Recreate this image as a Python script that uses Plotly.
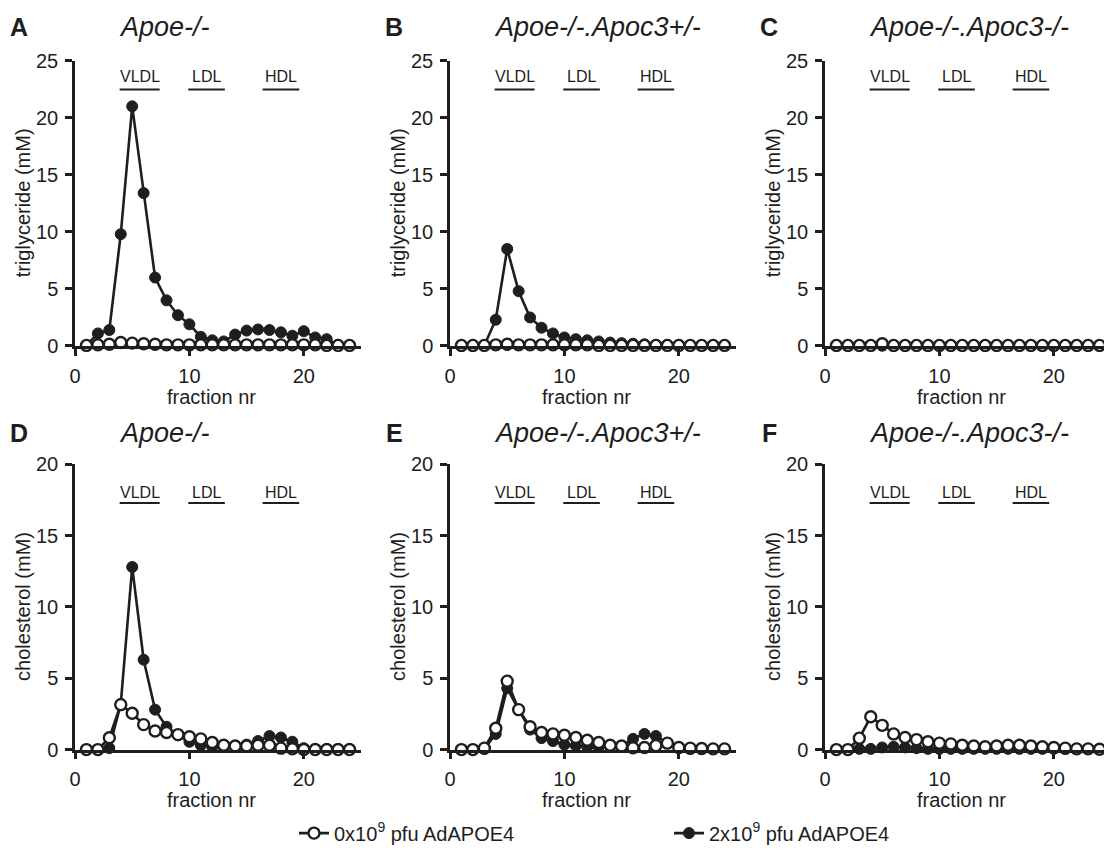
import plotly.graph_objects as go

PAGE_OFF = 8            # default body margin of the written html page
FW, FH = 1104, 845      # figure size so that it fits inside the 1112x853 window

fractions = list(range(1, 25))

# triglyceride (mM)
tg_A_0 = [0.05, 0.1, 0.15, 0.3, 0.25, 0.2, 0.15, 0.1, 0.1, 0.1, 0.1, 0.1, 0.1, 0.1, 0.1, 0.1, 0.1, 0.1, 0.1, 0.1, 0.1, 0.05, 0.05, 0.05]
tg_A_2 = [0.05, 1.1, 1.4, 9.8, 21.0, 13.4, 6.0, 4.0, 2.7, 1.9, 0.8, 0.5, 0.4, 1.0, 1.35, 1.45, 1.4, 1.2, 0.9, 1.3, 0.75, 0.6, 0.1, 0.05]
tg_B_0 = [0.05, 0.05, 0.05, 0.1, 0.15, 0.1, 0.1, 0.1, 0.1, 0.1, 0.1, 0.1, 0.05, 0.05, 0.05, 0.05, 0.05, 0.05, 0.05, 0.05, 0.05, 0.05, 0.05, 0.05]
tg_B_2 = [0.0, 0.0, 0.05, 2.3, 8.5, 4.8, 2.5, 1.6, 1.1, 0.75, 0.6, 0.5, 0.4, 0.3, 0.25, 0.2, 0.15, 0.1, 0.1, 0.1, 0.05, 0.05, 0.05, 0.05]
tg_C_0 = [0.05, 0.05, 0.05, 0.05, 0.2, 0.05, 0.05, 0.05, 0.05, 0.05, 0.05, 0.05, 0.05, 0.05, 0.05, 0.05, 0.05, 0.05, 0.05, 0.05, 0.05, 0.05, 0.05, 0.05]
tg_C_2 = [0.02, 0.02, 0.02, 0.02, 0.02, 0.02, 0.02, 0.02, 0.02, 0.02, 0.02, 0.02, 0.02, 0.02, 0.02, 0.02, 0.02, 0.02, 0.02, 0.02, 0.02, 0.02, 0.02, 0.02]

# cholesterol (mM)
ch_D_0 = [0.0, 0.0, 0.83, 3.15, 2.55, 1.75, 1.3, 1.2, 1.05, 0.9, 0.75, 0.5, 0.3, 0.25, 0.25, 0.3, 0.3, 0.1, 0.05, 0.0, 0.0, 0.0, 0.0, 0.0]
ch_D_2 = [0.0, 0.0, 0.1, 3.2, 12.8, 6.3, 2.8, 1.6, 1.0, 0.55, 0.3, 0.2, 0.2, 0.25, 0.35, 0.6, 0.95, 0.85, 0.55, 0.1, 0.05, 0.05, 0.05, 0.05]
ch_E_0 = [0.0, 0.0, 0.1, 1.5, 4.8, 2.8, 1.6, 1.2, 1.1, 1.0, 0.85, 0.65, 0.5, 0.3, 0.25, 0.12, 0.15, 0.28, 0.45, 0.15, 0.1, 0.08, 0.05, 0.05]
ch_E_2 = [0.0, 0.0, 0.05, 1.1, 4.3, 2.8, 1.4, 0.8, 0.6, 0.35, 0.28, 0.2, 0.2, 0.2, 0.25, 0.75, 1.1, 0.95, 0.45, 0.1, 0.05, 0.05, 0.05, 0.05]
ch_F_0 = [0.0, 0.0, 0.8, 2.3, 1.7, 1.1, 0.85, 0.7, 0.55, 0.45, 0.4, 0.3, 0.25, 0.2, 0.25, 0.3, 0.3, 0.25, 0.2, 0.15, 0.1, 0.05, 0.05, 0.02]
ch_F_2 = [0.0, 0.0, 0.05, 0.05, 0.15, 0.2, 0.15, 0.1, 0.05, 0.05, 0.05, 0.05, 0.05, 0.05, 0.05, 0.05, 0.05, 0.05, 0.05, 0.05, 0.05, 0.05, 0.05, 0.05]

panel_letters = ["A", "B", "C", "D", "E", "F"]
panel_titles = ["Apoe-/-", "Apoe-/-.Apoc3+/-", "Apoe-/-.Apoc3-/-",
                "Apoe-/-", "Apoe-/-.Apoc3+/-", "Apoe-/-.Apoc3-/-"]
series_open = [tg_A_0, tg_B_0, tg_C_0, ch_D_0, ch_E_0, ch_F_0]
series_filled = [tg_A_2, tg_B_2, tg_C_2, ch_D_2, ch_E_2, ch_F_2]
y_titles = ["triglyceride (mM)"] * 3 + ["cholesterol (mM)"] * 3
y_max = [25, 25, 25, 20, 20, 20]
y_tick_step = 5
x_ticks = [0, 10, 20]
x_title = "fraction nr"
legend_names = ["0x10<sup>9</sup> pfu AdAPOE4", "2x10<sup>9</sup> pfu AdAPOE4"]

lipo_names = ["VLDL", "LDL", "HDL"]
lipo_ranges = [(3.9, 7.4), (9.9, 13.1), (16.4, 19.6)]

FONT = "Arial, Liberation Sans, Helvetica, sans-serif"
INK = "#1e1e1e"

# layout, in window pixels
col_x0 = [75, 450, 825]
plot_w = 286
row_top = [61, 467]
row_bot = [348, 754]
letter_y = [27, 436]
XMAX = 25.0


def fx(p):
    return (p - PAGE_OFF) / FW


def fy(p):
    return 1 - (p - PAGE_OFF) / FH


fig = go.Figure()
annotations = []
shapes = []

for i in range(6):
    r, c = divmod(i, 3)
    ax = "" if i == 0 else str(i + 1)
    xa, ya = "x" + ax, "y" + ax
    x0 = col_x0[c]
    xdom = [fx(x0), min(1.0, fx(x0 + plot_w))]
    ydom = [fy(row_bot[r]), fy(row_top[r])]
    common = dict(showline=True, linecolor=INK, linewidth=2.5, ticks="outside",
                  ticklen=7, tickwidth=2.5, tickcolor=INK, showgrid=False,
                  zeroline=False, tickfont=dict(family=FONT, size=20, color=INK),
                  ticklabelstandoff=3, automargin=False, fixedrange=True)
    fig.update_layout(**{
        "xaxis" + ax: dict(domain=xdom, range=[0, XMAX], tickvals=x_ticks,
                           anchor=ya, **common),
        "yaxis" + ax: dict(domain=ydom, range=[0, y_max[i]],
                           tickvals=list(range(0, y_max[i] + 1, y_tick_step)),
                           anchor=xa, **common),
    })
    # filled series first (behind), open circles on top
    fig.add_trace(go.Scatter(
        x=fractions, y=series_filled[i], mode="lines+markers", xaxis=xa, yaxis=ya,
        line=dict(color=INK, width=2.6),
        marker=dict(symbol="circle", size=11, color=INK, line=dict(color=INK, width=1)),
        cliponaxis=False, name=legend_names[1], showlegend=(i == 0), legendrank=2))
    fig.add_trace(go.Scatter(
        x=fractions, y=series_open[i], mode="lines+markers", xaxis=xa, yaxis=ya,
        line=dict(color=INK, width=2.6),
        marker=dict(symbol="circle", size=11, color="white", line=dict(color=INK, width=2.4)),
        cliponaxis=False, name=legend_names[0], showlegend=(i == 0), legendrank=1))

    # panel letter
    annotations.append(dict(text="<b>%s</b>" % panel_letters[i], xref="paper", yref="paper",
                            x=fx(x0 - 56), y=fy(letter_y[r]),
                            xanchor="center", yanchor="middle", showarrow=False,
                            font=dict(family=FONT, size=25, color=INK)))
    # panel title
    annotations.append(dict(text="<i>%s</i>" % panel_titles[i], xref="paper", yref="paper",
                            x=fx(x0 + 42), y=fy(letter_y[r]),
                            xanchor="left", yanchor="middle", showarrow=False,
                            font=dict(family=FONT, size=27, color=INK)))
    # y title
    annotations.append(dict(text=y_titles[i], xref="paper", yref="paper",
                            x=fx(x0 - 52), y=fy((row_top[r] + row_bot[r]) / 2),
                            xanchor="center", yanchor="middle", textangle=-90,
                            showarrow=False, font=dict(family=FONT, size=20, color=INK)))
    # x title
    annotations.append(dict(text=x_title, xref="paper", yref="paper",
                            x=fx(x0 + 136), y=fy(row_bot[r] + 51),
                            xanchor="center", yanchor="middle",
                            showarrow=False, font=dict(family=FONT, size=20, color=INK)))
    # lipoprotein labels
    text_y = 1 - (16 if r == 0 else 28) / 287
    line_y = 1 - (29 if r == 0 else 39) / 287
    for name, (a, b) in zip(lipo_names, lipo_ranges):
        annotations.append(dict(text=name, xref=xa, yref=ya + " domain",
                                x=(a + b) / 2, y=text_y, xanchor="center", yanchor="middle",
                                showarrow=False, font=dict(family=FONT, size=16, color=INK)))
        shapes.append(dict(type="line", xref=xa, yref=ya + " domain", x0=a, x1=b,
                           y0=line_y, y1=line_y, line=dict(color=INK, width=2)))

fig.update_layout(
    width=FW, height=FH,
    margin=dict(l=0, r=0, t=0, b=0),
    plot_bgcolor="white", paper_bgcolor="white",
    annotations=annotations, shapes=shapes,
    showlegend=True,
    legend=dict(orientation="h", x=fx(294), y=fy(838), xanchor="left", yanchor="middle",
                entrywidth=330, entrywidthmode="pixels",
                font=dict(family=FONT, size=20, color=INK), bgcolor="rgba(0,0,0,0)",
                traceorder="normal"),
)

fig.write_html("out.html")
